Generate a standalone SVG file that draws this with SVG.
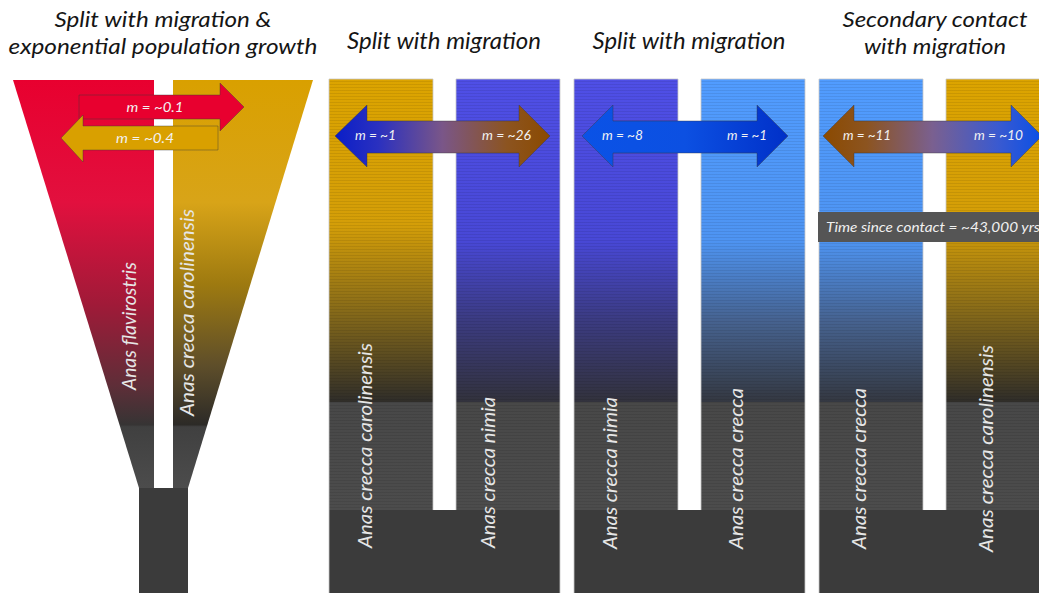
<svg xmlns="http://www.w3.org/2000/svg" width="1039" height="593" viewBox="0 0 1039 593">
<style>
.title{font-family:Lato,"Open Sans",sans-serif;font-style:italic;font-size:24px;fill:#151515;text-anchor:middle}
.t2{font-size:22px}
.sp{font-family:Lato,"Open Sans",sans-serif;font-style:italic;font-size:20px;fill:#e6e6e6}
.m{font-family:Lato,"Open Sans",sans-serif;font-style:italic;font-size:13px;fill:#f2f2f2}
.col{stroke:#c8c8c8;stroke-width:0.8}
.arrow{stroke:#3a3a3a;stroke-opacity:0.5;stroke-width:0.8}
</style>
<defs>
<pattern id="stripes" patternUnits="userSpaceOnUse" width="10" height="3">
<rect x="0" y="0" width="10" height="1" fill="#000" fill-opacity="0.08"/>
</pattern>
<linearGradient id="gGold" gradientUnits="userSpaceOnUse" x1="0" y1="79" x2="0" y2="402">
<stop offset="0" stop-color="#dca400"/><stop offset="0.45" stop-color="#d49e08"/><stop offset="0.7" stop-color="#8c6e18"/><stop offset="1" stop-color="#2f2d29"/>
</linearGradient>
<linearGradient id="gBlue" gradientUnits="userSpaceOnUse" x1="0" y1="79" x2="0" y2="402">
<stop offset="0" stop-color="#4f4fe6"/><stop offset="0.5" stop-color="#4848d6"/><stop offset="0.75" stop-color="#3b3b80"/><stop offset="1" stop-color="#32323c"/>
</linearGradient>
<linearGradient id="gLBlue" gradientUnits="userSpaceOnUse" x1="0" y1="79" x2="0" y2="402">
<stop offset="0" stop-color="#519cff"/><stop offset="0.5" stop-color="#4e94f2"/><stop offset="0.75" stop-color="#46628f"/><stop offset="1" stop-color="#343841"/>
</linearGradient>
<linearGradient id="gGrey" gradientUnits="userSpaceOnUse" x1="0" y1="402" x2="0" y2="510">
<stop offset="0" stop-color="#484848"/><stop offset="1" stop-color="#4c4c4c"/>
</linearGradient>
<linearGradient id="gRed1" gradientUnits="userSpaceOnUse" x1="0" y1="80" x2="0" y2="488">
<stop offset="0" stop-color="#e8002f"/><stop offset="0.3" stop-color="#e2103e"/><stop offset="0.55" stop-color="#a01a38"/><stop offset="0.75" stop-color="#5e2e38"/><stop offset="0.845" stop-color="#363434"/><stop offset="0.85" stop-color="#404040"/><stop offset="1" stop-color="#4c4c4c"/>
</linearGradient>
<linearGradient id="gGold1" gradientUnits="userSpaceOnUse" x1="0" y1="80" x2="0" y2="488">
<stop offset="0" stop-color="#d9a000"/><stop offset="0.3" stop-color="#d8a418"/><stop offset="0.5" stop-color="#9e7a10"/><stop offset="0.7" stop-color="#5e4e2a"/><stop offset="0.845" stop-color="#2c2a27"/><stop offset="0.85" stop-color="#404040"/><stop offset="1" stop-color="#4c4c4c"/>
</linearGradient>
<linearGradient id="a2" x1="0" y1="0" x2="1" y2="0">
<stop offset="0" stop-color="#0a1ec8"/><stop offset="0.2" stop-color="#2a30c0"/><stop offset="0.5" stop-color="#7a5688"/><stop offset="0.8" stop-color="#8c5420"/><stop offset="1" stop-color="#8b4a00"/>
</linearGradient>
<linearGradient id="a3" x1="0" y1="0" x2="1" y2="0">
<stop offset="0" stop-color="#0a52e6"/><stop offset="0.5" stop-color="#0c50e2"/><stop offset="1" stop-color="#0030c8"/>
</linearGradient>
<linearGradient id="a4" x1="0" y1="0" x2="1" y2="0">
<stop offset="0" stop-color="#8b4a00"/><stop offset="0.2" stop-color="#8c5420"/><stop offset="0.5" stop-color="#7a6090"/><stop offset="0.8" stop-color="#3a5ad0"/><stop offset="1" stop-color="#0a50e6"/>
</linearGradient>
</defs>
<rect width="1039" height="593" fill="#fff"/>

<g id="panel1">
<text class="title t2" x="163" y="27" textLength="217" lengthAdjust="spacingAndGlyphs">Split with migration &amp;</text>
<text class="title t2" x="163" y="54" textLength="309" lengthAdjust="spacingAndGlyphs">exponential population growth</text>
<polygon points="13,80 154,80 154,488 139,488" fill="url(#gRed1)"/>
<polygon points="173,80 313,80 188,488 173,488" fill="url(#gGold1)"/>
<rect x="139" y="488" width="49" height="105" fill="#3b3b3b"/>
<text class="sp" transform="translate(136,390) rotate(-90)" textLength="128" lengthAdjust="spacingAndGlyphs">Anas flavirostris</text>
<text class="sp" transform="translate(194,416) rotate(-90)" textLength="207" lengthAdjust="spacingAndGlyphs">Anas crecca carolinensis</text>
</g>

<g id="panel2">
<text class="title" x="444" y="49" textLength="194" lengthAdjust="spacingAndGlyphs">Split with migration</text>
<rect x="329" y="79" width="104" height="323" fill="url(#gGold)"/>
<rect x="456" y="79" width="104" height="323" fill="url(#gBlue)"/>
<rect x="329" y="402" width="104" height="108" fill="url(#gGrey)"/>
<rect x="456" y="402" width="104" height="108" fill="url(#gGrey)"/>
<rect x="329" y="79" width="104" height="431" fill="url(#stripes)"/>
<rect x="456" y="79" width="104" height="431" fill="url(#stripes)"/>
<rect x="329" y="510" width="231" height="83" fill="#3b3b3b"/>
<path class="col" fill="none" d="M329,593 V79 H433 V510 M456,510 V79 H560 V593"/>
<text class="sp" transform="translate(372,548) rotate(-90)" textLength="205" lengthAdjust="spacingAndGlyphs">Anas crecca carolinensis</text>
<text class="sp" transform="translate(495,548) rotate(-90)" textLength="151" lengthAdjust="spacingAndGlyphs">Anas crecca nimia</text>
</g>

<g id="panel3">
<text class="title" x="689" y="49" textLength="193" lengthAdjust="spacingAndGlyphs">Split with migration</text>
<rect x="574" y="79" width="104" height="323" fill="url(#gBlue)"/>
<rect x="701" y="79" width="104" height="323" fill="url(#gLBlue)"/>
<rect x="574" y="402" width="104" height="108" fill="url(#gGrey)"/>
<rect x="701" y="402" width="104" height="108" fill="url(#gGrey)"/>
<rect x="574" y="79" width="104" height="431" fill="url(#stripes)"/>
<rect x="701" y="79" width="104" height="431" fill="url(#stripes)"/>
<rect x="574" y="510" width="231" height="83" fill="#3b3b3b"/>
<path class="col" fill="none" d="M574,593 V79 H678 V510 M701,510 V79 H805 V593"/>
<text class="sp" transform="translate(617,549) rotate(-90)" textLength="152" lengthAdjust="spacingAndGlyphs">Anas crecca nimia</text>
<text class="sp" transform="translate(743,549) rotate(-90)" textLength="161" lengthAdjust="spacingAndGlyphs">Anas crecca crecca</text>
</g>

<g id="panel4">
<text class="title t2" x="935" y="27" textLength="185" lengthAdjust="spacingAndGlyphs">Secondary contact</text>
<text class="title t2" x="935" y="54" textLength="142" lengthAdjust="spacingAndGlyphs">with migration</text>
<rect x="819" y="79" width="104" height="323" fill="url(#gLBlue)"/>
<rect x="946" y="79" width="104" height="323" fill="url(#gGold)"/>
<rect x="819" y="402" width="104" height="108" fill="url(#gGrey)"/>
<rect x="946" y="402" width="104" height="108" fill="url(#gGrey)"/>
<rect x="819" y="79" width="104" height="431" fill="url(#stripes)"/>
<rect x="946" y="79" width="104" height="431" fill="url(#stripes)"/>
<rect x="819" y="510" width="231" height="83" fill="#3b3b3b"/>
<path class="col" fill="none" d="M819,593 V79 H923 V510 M946,510 V79 H1050"/>
<text class="sp" transform="translate(866,549) rotate(-90)" textLength="161" lengthAdjust="spacingAndGlyphs">Anas crecca crecca</text>
<text class="sp" transform="translate(993,552) rotate(-90)" textLength="207" lengthAdjust="spacingAndGlyphs">Anas crecca carolinensis</text>
</g>

<g id="connectors">
<polygon class="arrow" points="79,95 220,95 220,83 244,107 220,131 220,119 79,119" fill="#e8002f" stroke="#a8002a"/>
<text class="m" x="155" y="112" text-anchor="middle" font-size="14" textLength="57" lengthAdjust="spacingAndGlyphs">m = ~0.1</text>
<polygon class="arrow" points="61,138 83,115 83,126 218,126 218,150 83,150 83,162" fill="#d9a000" stroke="#9a7000"/>
<text class="m" x="145" y="143" text-anchor="middle" font-size="14" textLength="58" lengthAdjust="spacingAndGlyphs">m = ~0.4</text>

<polygon class="arrow" points="335,136 367,105 367,121 519,121 519,105 550,136 519,167 519,153 367,153 367,167" fill="url(#a2)"/>
<text class="m" x="355" y="140" textLength="41" lengthAdjust="spacingAndGlyphs">m = ~1</text>
<text class="m" x="482" y="140" textLength="49" lengthAdjust="spacingAndGlyphs">m = ~26</text>

<polygon class="arrow" points="582,136 613,105 613,121 757,121 757,105 788,136 757,167 757,153 613,153 613,167" fill="url(#a3)"/>
<text class="m" x="602" y="140" textLength="41" lengthAdjust="spacingAndGlyphs">m = ~8</text>
<text class="m" x="727" y="140" textLength="40" lengthAdjust="spacingAndGlyphs">m = ~1</text>

<polygon class="arrow" points="823,136 854,105 854,121 1011,121 1011,105 1042,136 1011,167 1011,153 854,153 854,167" fill="url(#a4)"/>
<text class="m" x="843" y="140" textLength="48" lengthAdjust="spacingAndGlyphs">m = ~11</text>
<text class="m" x="974" y="140" textLength="49" lengthAdjust="spacingAndGlyphs">m = ~10</text>
</g>

<g id="contact-label">
<rect x="818" y="212" width="225" height="30" fill="#555555"/>
<text x="826" y="232" font-family="Lato,'Open Sans',sans-serif" font-style="italic" font-size="14" fill="#f0f0f0" textLength="214" lengthAdjust="spacingAndGlyphs">Time since contact = ~43,000 yrs</text>
</g>
</svg>
